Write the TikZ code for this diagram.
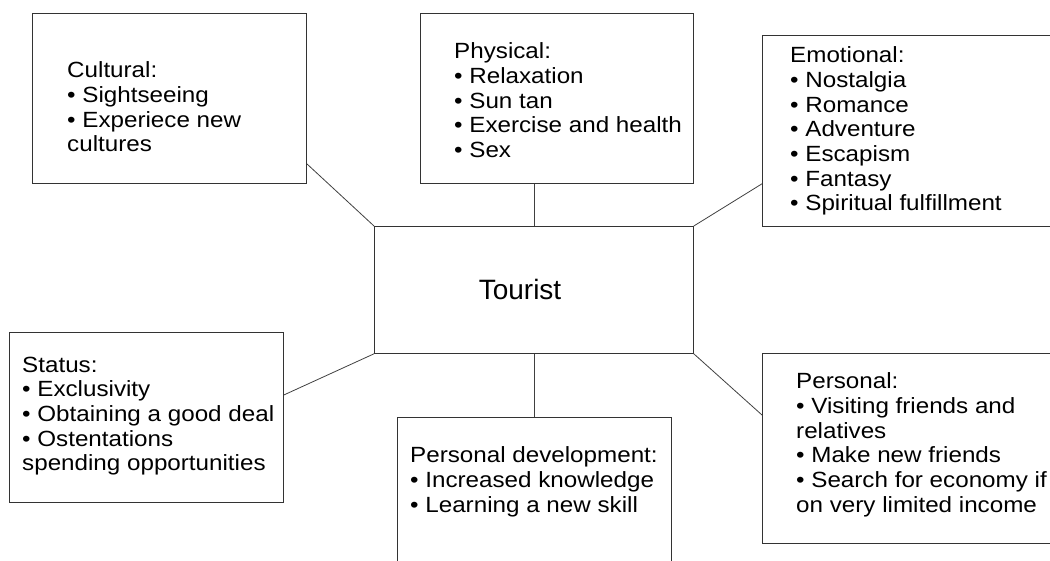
\documentclass[tikz,border=0pt]{standalone}
\usepackage{fontspec}
\setmainfont{Liberation Sans}
\newfontfamily\boxfont{Liberation Sans}[FakeStretch=1.1]
\begin{document}
\begin{tikzpicture}[x=1pt,y=-1pt,
  box/.style={draw=black!80,line width=0.8pt,inner sep=0pt,anchor=north west},
  txt/.style={inner sep=0pt,anchor=north west,align=left,font=\boxfont\fontsize{22}{24.7}\selectfont},
  link/.style={draw=black!75,line width=0.8pt}]
\useasboundingbox (0,0) rectangle (1050,561);
\clip (0,0) rectangle (1050,561);

\node [box,minimum width=274pt,minimum height=170pt] (cul) at (32,13) {};
\node [txt] (cultxt) at (67,61.5) {Cultural:\\• Sightseeing\\• Experiece new\\cultures};

\node [box,minimum width=273pt,minimum height=170pt] (phy) at (420,13) {};
\node [txt] (phytxt) at (454,42.5) {Physical:\\• Relaxation\\• Sun tan\\• Exercise and health\\• Sex};

\node [box,minimum width=300pt,minimum height=191pt] (emo) at (762,35) {};
\node [txt] (emotxt) at (790,46.5) {Emotional:\\• Nostalgia\\• Romance\\• Adventure\\• Escapism\\• Fantasy\\• Spiritual fulfillment};

\node [box,minimum width=319pt,minimum height=127pt] (tou) at (374,226) {};
\node [font=\fontsize{28}{32}\selectfont] (toutxt) at (520,289) {Tourist};

\node [box,minimum width=274pt,minimum height=170pt] (sta) at (9,332) {};
\node [txt] (statxt) at (22,356.5) {Status:\\• Exclusivity\\• Obtaining a good deal\\• Ostentations\\spending opportunities};

\node [box,minimum width=274pt,minimum height=170pt] (dev) at (397,417) {};
\node [txt] (devtxt) at (410,446.5) {Personal development:\\• Increased knowledge\\• Learning a new skill};

\node [box,minimum width=300pt,minimum height=190pt] (per) at (762,353) {};
\node [txt] (pertxt) at (796,372.5) {Personal:\\• Visiting friends and\\relatives\\• Make new friends\\• Search for economy if\\on very limited income};

\draw [link] ([yshift=20pt]cul.south east) -- (tou.north west);
\draw [link] (tou.north) -- (tou.north |- phy.south);
\draw [link] (tou.north east) -- ([yshift=43pt]emo.south west);
\draw [link] ([yshift=-63pt]sta.north east) -- (tou.south west);
\draw [link] (tou.south) -- (tou.south |- dev.north);
\draw [link] (tou.south east) -- ([yshift=-62pt]per.north west);
\end{tikzpicture}
\end{document}
